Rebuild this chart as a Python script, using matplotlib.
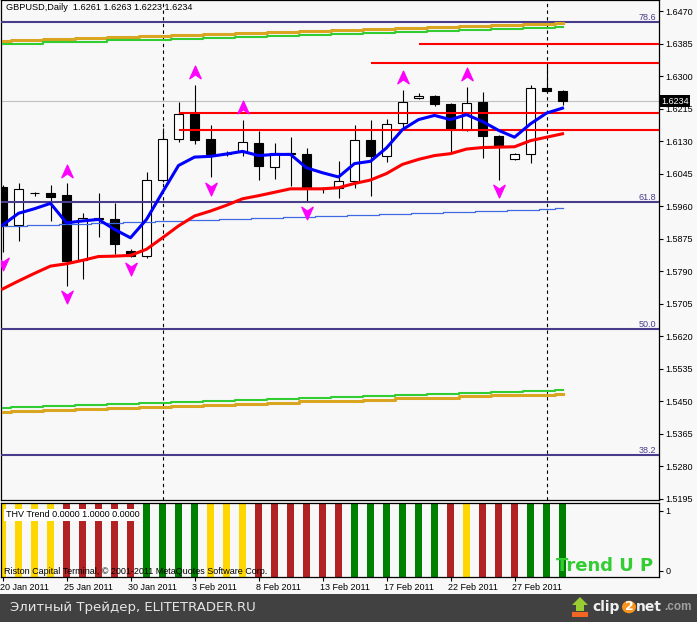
import numpy as np
import matplotlib.pyplot as plt
from matplotlib.path import Path
from matplotlib.patches import Rectangle, Circle, Polygon
from matplotlib.ticker import FormatStrFormatter
from matplotlib.transforms import blended_transform_factory, ScaledTranslation

plt.rcParams['font.family'] = ['Liberation Sans', 'DejaVu Sans']

# daily bars (MT4 feed, includes Sunday bars)
dates = ["20 Jan", "21 Jan", "23 Jan", "24 Jan", "25 Jan", "26 Jan", "27 Jan", "28 Jan",
         "30 Jan", "31 Jan", "1 Feb", "2 Feb", "3 Feb", "4 Feb", "6 Feb", "7 Feb",
         "8 Feb", "9 Feb", "10 Feb", "11 Feb", "13 Feb", "14 Feb", "15 Feb", "16 Feb",
         "17 Feb", "18 Feb", "20 Feb", "21 Feb", "22 Feb", "23 Feb", "24 Feb", "25 Feb",
         "27 Feb", "28 Feb", "1 Mar", "2 Mar"]
opens = [1.6011, 1.5911, 1.5994, 1.5995, 1.5988, 1.5818, 1.5930, 1.5925, 1.5842, 1.5829,
         1.6028, 1.6135, 1.6201, 1.6136, 1.6098, 1.6101, 1.6125, 1.6062, 1.6099, 1.6095,
         1.6008, 1.6008, 1.6025, 1.6134, 1.6090, 1.6176, 1.6242, 1.6248, 1.6228, 1.6160,
         1.6233, 1.6144, 1.6083, 1.6096, 1.6268, 1.6261]
highs = [1.6016, 1.6019, 1.5998, 1.6016, 1.6019, 1.5941, 1.5993, 1.5969, 1.5847, 1.6050,
         1.6164, 1.6231, 1.6277, 1.6173, 1.6105, 1.6186, 1.6157, 1.6125, 1.6140, 1.6112,
         1.6011, 1.6079, 1.6173, 1.6186, 1.6188, 1.6264, 1.6255, 1.6251, 1.6230, 1.6271,
         1.6257, 1.6145, 1.6099, 1.6277, 1.6329, 1.6263]
lows = [1.5839, 1.5868, 1.5985, 1.5921, 1.5751, 1.5769, 1.5879, 1.5834, 1.5826, 1.5823,
        1.6024, 1.6127, 1.6122, 1.6035, 1.6092, 1.6090, 1.6028, 1.6032, 1.6012, 1.5973,
        1.5995, 1.5982, 1.6008, 1.5986, 1.6075, 1.6160, 1.6241, 1.6222, 1.6099, 1.6155,
        1.6086, 1.6029, 1.6080, 1.6073, 1.6259, 1.6223]
closes = [1.5909, 1.6005, 1.5995, 1.5983, 1.5816, 1.5930, 1.5925, 1.5860, 1.5829, 1.6027,
          1.6135, 1.6201, 1.6132, 1.6095, 1.6095, 1.6128, 1.6064, 1.6099, 1.6095, 1.6009,
          1.6007, 1.6025, 1.6134, 1.6090, 1.6175, 1.6233, 1.6248, 1.6226, 1.6162, 1.6229,
          1.6142, 1.6116, 1.6096, 1.6268, 1.6260, 1.6234]

# moving averages
ma_fast = [1.5910, 1.5941, 1.5953, 1.5967, 1.5916, 1.5921, 1.5925, 1.5899, 1.5877, 1.5925,
           1.5996, 1.6066, 1.6088, 1.6090, 1.6096, 1.6103, 1.6092, 1.6095, 1.6095, 1.6060,
           1.6047, 1.6036, 1.6071, 1.6077, 1.6112, 1.6160, 1.6186, 1.6197, 1.6186, 1.6199,
           1.6181, 1.6158, 1.6140, 1.6175, 1.6203, 1.6216]
ma_slow = [1.5743, 1.5764, 1.5784, 1.5803, 1.5809, 1.5818, 1.5828, 1.5829, 1.5831, 1.5847,
           1.5877, 1.5908, 1.5934, 1.5947, 1.5962, 1.5979, 1.5987, 1.5996, 1.6005, 1.6005,
           1.6005, 1.6008, 1.6019, 1.6028, 1.6045, 1.6069, 1.6082, 1.6092, 1.6097, 1.6109,
           1.6113, 1.6114, 1.6115, 1.6131, 1.6140, 1.6149]
trend_line = [1.5907, 1.5907, 1.5910, 1.5910, 1.5912, 1.5912, 1.5915, 1.5915, 1.5918, 1.5918,
              1.5920, 1.5920, 1.5923, 1.5923, 1.5926, 1.5926, 1.5928, 1.5928, 1.5931, 1.5931,
              1.5933, 1.5933, 1.5936, 1.5936, 1.5939, 1.5939, 1.5941, 1.5941, 1.5944, 1.5944,
              1.5946, 1.5946, 1.5949, 1.5949, 1.5952, 1.5954]

# channel lines (upper and lower band pairs)
upper_gold = [1.6391, 1.6394, 1.6394, 1.6396, 1.6396, 1.6399, 1.6399, 1.6402, 1.6402, 1.6404,
              1.6404, 1.6407, 1.6407, 1.6410, 1.6410, 1.6412, 1.6412, 1.6415, 1.6415, 1.6418,
              1.6418, 1.6420, 1.6420, 1.6423, 1.6423, 1.6426, 1.6426, 1.6428, 1.6428, 1.6431,
              1.6431, 1.6434, 1.6434, 1.6436, 1.6436, 1.6438]
upper_green = [1.6383, 1.6385, 1.6385, 1.6388, 1.6388, 1.6390, 1.6390, 1.6393, 1.6393, 1.6395,
               1.6395, 1.6398, 1.6398, 1.6400, 1.6400, 1.6403, 1.6403, 1.6405, 1.6405, 1.6408,
               1.6408, 1.6410, 1.6410, 1.6413, 1.6413, 1.6415, 1.6415, 1.6418, 1.6418, 1.6420,
               1.6420, 1.6423, 1.6423, 1.6425, 1.6425, 1.6427]
lower_green = [1.5432, 1.5435, 1.5435, 1.5437, 1.5437, 1.5440, 1.5440, 1.5443, 1.5443, 1.5445,
               1.5445, 1.5448, 1.5448, 1.5451, 1.5451, 1.5453, 1.5453, 1.5456, 1.5456, 1.5459,
               1.5459, 1.5461, 1.5461, 1.5464, 1.5464, 1.5467, 1.5467, 1.5469, 1.5469, 1.5472,
               1.5472, 1.5475, 1.5475, 1.5477, 1.5477, 1.5479]
lower_gold = [1.5422, 1.5425, 1.5425, 1.5427, 1.5427, 1.5430, 1.5430, 1.5433, 1.5433, 1.5435,
              1.5435, 1.5438, 1.5438, 1.5441, 1.5441, 1.5443, 1.5443, 1.5446, 1.5446, 1.5449,
              1.5449, 1.5451, 1.5451, 1.5454, 1.5454, 1.5457, 1.5457, 1.5459, 1.5459, 1.5462,
              1.5462, 1.5465, 1.5465, 1.5467, 1.5467, 1.5469]

# fractals (bar indices)
fractal_up = [4, 12, 15, 25, 29]
fractal_down = [0, 4, 8, 13, 19, 31]

# fibonacci levels
fib_levels = [1.6440, 1.5971, 1.5638, 1.5308]
fib_labels = ["78.6", "61.8", "50.0", "38.2"]

# support / resistance lines: price and first bar
sr_levels = [1.6385, 1.6333, 1.6202, 1.6160]
sr_start = [26, 23, 11, 11]

price_ticks = [1.6470, 1.6385, 1.6300, 1.6215, 1.6130, 1.6045, 1.5960, 1.5875, 1.5790,
               1.5705, 1.5620, 1.5535, 1.5450, 1.5365, 1.5280, 1.5195]

# THV trend histogram: 1 = up (green), 0 = flat (yellow), -1 = down (red)
thv_state = [0, 0, 0, 0, -1, -1, -1, -1, -1, 1, 1, 1, 1, 0, 0, 0, -1, -1, -1, -1, -1, -1,
             1, 1, 1, 1, 1, 1, -1, 0, -1, -1, -1, 1, 1, 1]
thv_value = [1.0] * len(thv_state)

label_bars = [0, 4, 8, 12, 16, 20, 24, 28, 32]

W, H = 697, 622
BG = '#F8F8F8'
fig = plt.figure(figsize=(W / 100, H / 100), dpi=100, facecolor=BG)
ax = fig.add_axes([0.5 / W, 122 / H, 658 / W, 500 / H], facecolor=BG)
ax2 = fig.add_axes([0.5 / W, 45 / H, 658 / W, 74 / H], facecolor=BG)

x = np.arange(len(dates))
o, h, l, c = (np.array(v) for v in (opens, highs, lows, closes))

# candles
ax.vlines(x, l, h, color='black', lw=0.8, zorder=2)
bull = c >= o
ax.bar(x, np.abs(c - o), bottom=np.minimum(o, c), width=0.62,
       color=np.where(bull, 'white', 'black'), edgecolor='black', lw=0.8, zorder=2.2)

# horizontal levels
ax.axhline(c[-1], color='#C0C0C0', lw=0.8, zorder=1)
for lv, lab in zip(fib_levels, fib_labels):
    ax.axhline(lv, color='#483D8B', lw=1.5, zorder=3)
    ax.text(0.996, lv, lab, transform=blended_transform_factory(ax.transAxes, ax.transData),
            ha='right', va='bottom', fontsize=6.5, color='#483D8B', zorder=3)
ax.hlines(sr_levels, sr_start, 41, colors='red', lw=1.5, zorder=4)

# bands and averages
ax.plot(x, upper_gold, color='#DAA520', lw=2.2, drawstyle='steps-mid', zorder=3)
ax.plot(x, upper_green, color='#32CD32', lw=1.5, drawstyle='steps-mid', zorder=3)
ax.plot(x, lower_green, color='#32CD32', lw=1.5, drawstyle='steps-mid', zorder=3)
ax.plot(x, lower_gold, color='#DAA520', lw=2.2, drawstyle='steps-mid', zorder=3)
ax.plot(x, trend_line, color='#4169E1', lw=0.9, drawstyle='steps-mid', zorder=3)
ax.plot(x, ma_slow, color='red', lw=2.2, zorder=5)
ax.plot(x, ma_fast, color='blue', lw=2.2, zorder=5)

# fractal arrows
arrow_up = Path([(0, 0.5), (0.45, -0.5), (0, -0.18), (-0.45, -0.5), (0, 0.5)],
                [Path.MOVETO, Path.LINETO, Path.LINETO, Path.LINETO, Path.CLOSEPOLY])
arrow_dn = Path([(0, -0.5), (0.45, 0.5), (0, 0.18), (-0.45, 0.5), (0, -0.5)],
                [Path.MOVETO, Path.LINETO, Path.LINETO, Path.LINETO, Path.CLOSEPOLY])
ax.plot(x[fractal_up], h[fractal_up] + 0.0033, ls='none', marker=arrow_up, ms=9,
        color='#FF00FF', zorder=6)
ax.plot(x[fractal_down], l[fractal_down] - 0.0030, ls='none', marker=arrow_dn, ms=9,
        color='#FF00FF', zorder=6)

# month separators
for i in range(1, len(dates)):
    if dates[i].split()[1] != dates[i - 1].split()[1]:
        for a in (ax, ax2):
            a.axvline(i, color='black', lw=0.8, ls=(0, (3, 3)), zorder=1)

ax.set_xlim(-0.125, 41)
ax.set_ylim(1.51913, 1.64988)
ax.yaxis.tick_right()
ax.set_yticks(price_ticks)
ax.yaxis.set_major_formatter(FormatStrFormatter('%.4f'))
ax.tick_params(axis='y', direction='out', length=3, width=0.8, pad=2, labelsize=6.5)
ax.tick_params(axis='x', bottom=False, labelbottom=False)
for s in ax.spines.values():
    s.set_linewidth(0.9)

ax.text(1.004, c[-1], f"{c[-1]:.4f}", transform=blended_transform_factory(ax.transAxes, ax.transData),
        ha='left', va='center', fontsize=6.5, color='white', zorder=10, clip_on=False,
        bbox=dict(facecolor='black', edgecolor='none', pad=1.2))
ax.text(5 / 658, 1 - 7 / 500, f"GBPUSD,Daily  {o[-1]:.4f} {h[-1]:.4f} {l[-1]:.4f} {c[-1]:.4f}",
        transform=ax.transAxes, ha='left', va='center', fontsize=6.6, zorder=10)

# THV trend window
thv_colors = {1: '#008000', 0: '#FFD700', -1: '#B22222'}
ymin, ymax = -0.1, 1.13
ax2.bar(x, [v * (ymax - ymin) for v in thv_value], bottom=ymin, width=0.42,
        color=[thv_colors[s] for s in thv_state], zorder=2)
ax2.set_xlim(-0.125, 41)
ax2.set_ylim(ymin, ymax)
ax2.yaxis.tick_right()
ax2.set_yticks([0, 1])
ax2.set_yticklabels(['0', '1'])
ax2.tick_params(axis='y', direction='out', length=3, width=0.8, pad=2, labelsize=6.5)
ax2.set_xticks(label_bars)
ax2.set_xticklabels([dates[i] + " 2011" for i in label_bars])
ax2.tick_params(axis='x', direction='out', length=3, width=0.8, pad=1.5, labelsize=6.5)
for lab in ax2.get_xticklabels():
    lab.set_ha('left')
    lab.set_transform(lab.get_transform() + ScaledTranslation(-0.02, 0, fig.dpi_scale_trans))
for s in ax2.spines.values():
    s.set_linewidth(0.9)

ax2.text(5 / 658, 0.84, "THV Trend 0.0000 1.0000 0.0000", transform=ax2.transAxes,
         ha='left', va='center', fontsize=6.5, zorder=5,
         bbox=dict(facecolor='white', edgecolor='none', pad=1))
ax2.text(3 / 658, 0.08, "Riston Capital Terminal, \u00a9 2001-2011 MetaQuotes Software Corp.",
         transform=ax2.transAxes, ha='left', va='center', fontsize=6.5, zorder=5)
ax2.text(555 / 658, 0.08, "Trend U P", transform=ax2.transAxes, ha='left', va='baseline',
         fontsize=13, fontweight='bold', color='#32CD32', family='DejaVu Sans', zorder=5)

# footer bar
def fx(px):
    return px / W


def fy(py):
    return 1 - py / H


fig.patches.append(Rectangle((0, 0), 1, 28 / H, transform=fig.transFigure,
                             facecolor='#414141', edgecolor='none'))
fig.text(fx(10), fy(608), "Элитный Трейдер, ELITETRADER.RU", ha='left', va='center',
         fontsize=9.5, color='#E6E6E6', family='DejaVu Sans')
fig.patches.append(Polygon([(fx(580), fy(597)), (fx(588), fy(605)), (fx(584), fy(605)),
                            (fx(584), fy(611)), (fx(576), fy(611)), (fx(576), fy(605)),
                            (fx(572), fy(605))], closed=True, transform=fig.transFigure,
                           facecolor='#9ACD32', edgecolor='none'))
fig.patches.append(Rectangle((fx(572), fy(617)), 16 / W, 5 / H, transform=fig.transFigure,
                             facecolor='#F26522', edgecolor='none'))
fig.text(fx(592), fy(607), "clip", ha='left', va='center', fontsize=10,
         fontweight='bold', color='#F0F0F0', family='DejaVu Sans')
fig.patches.append(Circle((fx(629), fy(607)), 7 / W, transform=fig.transFigure,
                          facecolor='#F7941D', edgecolor='none'))
fig.text(fx(629), fy(607), "2", ha='center', va='center', fontsize=9,
         fontweight='bold', color='white', family='DejaVu Sans')
fig.text(fx(636), fy(607), "net", ha='left', va='center', fontsize=10,
         fontweight='bold', color='#F0F0F0', family='DejaVu Sans')
fig.text(fx(664), fy(607), ".com", ha='left', va='center', fontsize=8.5,
         fontweight='bold', color='#A0A0A0')

fig.savefig('out.png', dpi=100, facecolor=BG)
